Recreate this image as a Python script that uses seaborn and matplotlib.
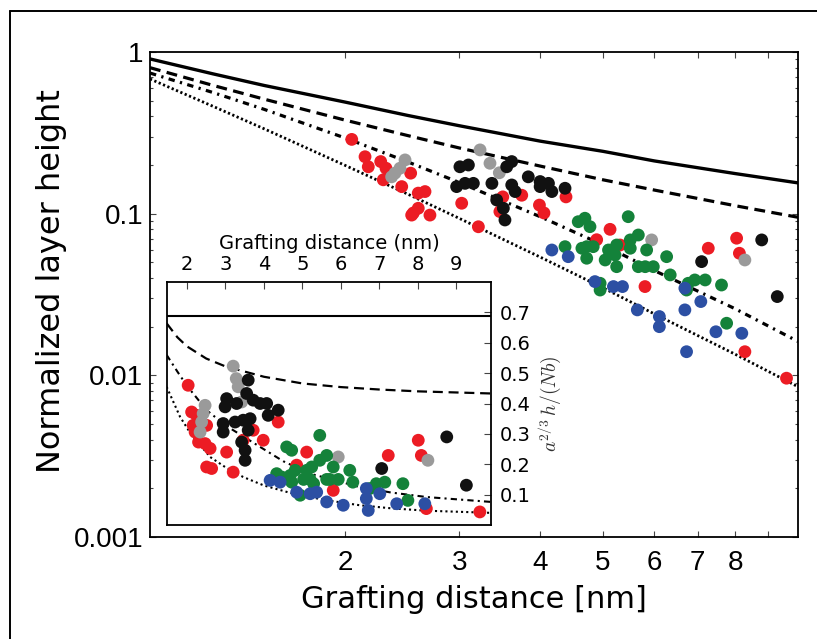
import numpy as np
import pandas as pd
import matplotlib
matplotlib.use('Agg')
import matplotlib.pyplot as plt
import seaborn as sns
from matplotlib.lines import Line2D
from matplotlib.ticker import FixedLocator, FixedFormatter, NullFormatter, LogLocator, NullLocator

# ---------------- data: main panel (log-log) ----------------
red_x = [2.048, 2.147, 2.172, 2.270, 2.313, 2.291, 2.446, 2.525, 2.594, 2.657, 2.549, 2.594, 2.534, 2.704,
         3.027, 3.212, 3.503, 3.747, 4.385, 3.99, 4.055, 3.467, 5.128, 4.89, 5.313, 5.806, 7.27, 8.04, 8.12,
         8.28, 9.60]
red_y = [0.288, 0.225, 0.195, 0.210, 0.191, 0.162, 0.147, 0.178, 0.134, 0.137, 0.101, 0.108, 0.098, 0.098,
         0.116, 0.083, 0.127, 0.130, 0.127, 0.113, 0.101, 0.103, 0.080, 0.069, 0.064, 0.0354, 0.0611, 0.0705,
         0.0569, 0.0140, 0.0096]
gray_x = [2.388, 2.475, 2.431, 2.36, 3.231, 3.347, 3.46, 5.945, 8.28]
gray_y = [0.178, 0.215, 0.191, 0.169, 0.248, 0.205, 0.179, 0.0688, 0.0517]
black_x = [3.008, 3.063, 2.973, 3.155, 3.37, 3.552, 3.616, 3.835, 4.0, 4.12, 4.17, 4.0, 4.37, 3.616, 3.66,
           3.428, 3.51, 3.53, 7.10, 8.79, 9.29, 3.10]
black_y = [0.195, 0.154, 0.147, 0.154, 0.154, 0.195, 0.210, 0.169, 0.158, 0.154, 0.137, 0.147, 0.1436,
           0.1505, 0.137, 0.1215, 0.108, 0.0914, 0.0505, 0.0688, 0.0307, 0.200]
green_x = [4.58, 4.69, 4.775, 5.47, 4.37, 4.64, 4.72, 4.83, 4.72, 5.04, 5.10, 5.25, 5.22, 5.25, 5.51, 5.51,
           5.67, 5.84, 5.67, 5.81, 5.98, 6.27, 6.35, 4.95, 4.95, 6.77, 6.93, 7.19, 6.73, 7.62, 7.76]
green_y = [0.0892, 0.0937, 0.0831, 0.0958, 0.0625, 0.0611, 0.0625, 0.0625, 0.053, 0.0517, 0.0596, 0.064,
           0.0555, 0.047, 0.0688, 0.0611, 0.0738, 0.0596, 0.047, 0.047, 0.047, 0.0542, 0.0418, 0.0371, 0.0337,
           0.0371, 0.0389, 0.0389, 0.0337, 0.0362, 0.021]
blue_x = [4.17, 4.42, 4.86, 5.19, 5.36, 5.65, 6.11, 6.11, 6.69, 6.69, 7.08, 6.73, 7.47, 8.19]
blue_y = [0.0596, 0.0542, 0.038, 0.0354, 0.0354, 0.0254, 0.0231, 0.020, 0.0346, 0.0254, 0.0286, 0.014,
          0.0186, 0.0182]

# theory curves (main), read at these grafting distances
line_x = [1, 1.25, 1.5, 2, 2.5, 3, 4, 5, 6, 8, 10]
solid_y = [0.906, 0.733, 0.621, 0.49, 0.405, 0.35, 0.281, 0.243, 0.212, 0.177, 0.155]
dashed_y = [0.80, 0.622, 0.511, 0.379, 0.304, 0.255, 0.197, 0.162, 0.140, 0.112, 0.095]
dashdot_y = [0.741, 0.562, 0.442, 0.294, 0.209, 0.156, 0.0958, 0.0641, 0.0445, 0.0258, 0.0162]
dotted_y = [0.681, 0.462, 0.335, 0.199, 0.132, 0.0936, 0.0539, 0.0348, 0.0240, 0.0135, 0.0085]

main_xticks = [2, 3, 4, 5, 6, 7, 8, 9]
main_xticklabels = ['2', '3', '4', '5', '6', '7', '8', '']
main_yticks = [0.001, 0.01, 0.1, 1]
main_yticklabels = ['0.001', '0.01', '0.1', '1']

# ---------------- data: inset (linear) ----------------
red_in_x = [2.03, 2.12, 2.25, 2.16, 2.21, 2.51, 2.30, 2.47, 2.60, 2.51, 2.64, 3.03, 3.20, 3.46, 3.72, 3.98,
            4.37, 5.11, 4.85, 5.80, 7.23, 8.01, 8.09, 8.22, 9.61]
red_in_y = [0.460, 0.372, 0.361, 0.328, 0.306, 0.328, 0.273, 0.268, 0.252, 0.191, 0.186, 0.240, 0.174, 0.279,
            0.312, 0.279, 0.339, 0.240, 0.197, 0.114, 0.229, 0.279, 0.229, 0.054, 0.043]
gray_in_x = [3.20, 3.28, 3.33, 3.42, 2.47, 2.42, 2.38, 2.34, 5.93, 8.26]
gray_in_y = [0.523, 0.482, 0.455, 0.405, 0.394, 0.367, 0.339, 0.306, 0.224, 0.213]
black_in_x = [3.59, 3.55, 3.03, 2.99, 3.29, 3.72, 3.90, 4.07, 4.11, 4.37, 2.94, 2.94, 3.25, 3.46, 3.64, 3.59,
              3.42, 3.51, 3.51, 7.06, 8.75, 9.26]
black_in_y = [0.477, 0.433, 0.416, 0.389, 0.400, 0.411, 0.400, 0.400, 0.361, 0.378, 0.334, 0.306, 0.339,
              0.345, 0.350, 0.312, 0.273, 0.246, 0.213, 0.186, 0.290, 0.131]
green_in_x = [5.45, 4.59, 4.72, 4.33, 4.46, 4.68, 4.81, 4.72, 4.94, 5.03, 5.11, 5.24, 5.20, 5.29, 5.45, 5.63,
              5.63, 5.80, 5.71, 5.93, 6.23, 6.31, 6.75, 6.92, 7.14, 7.61, 7.74]
green_in_y = [0.295, 0.257, 0.246, 0.169, 0.158, 0.163, 0.180, 0.141, 0.098, 0.150, 0.180, 0.191, 0.150,
              0.136, 0.213, 0.229, 0.150, 0.191, 0.150, 0.150, 0.180, 0.141, 0.120, 0.136, 0.141, 0.136, 0.081]
blue_in_x = [4.16, 4.42, 4.85, 5.20, 5.37, 5.63, 6.06, 6.66, 6.66, 6.71, 7.01, 7.45, 8.18]
blue_in_y = [0.147, 0.141, 0.108, 0.103, 0.108, 0.076, 0.065, 0.120, 0.087, 0.048, 0.103, 0.070, 0.070]

in_solid_x = [1.48, 9.9]
in_solid_y = [0.688, 0.688]
in_dash_x = [1.47, 1.75, 2.0, 2.5, 3.0, 4.0, 5.0, 6.0, 7.0, 8.0, 9.9]
in_dash_y = [0.664, 0.618, 0.588, 0.548, 0.522, 0.488, 0.466, 0.454, 0.446, 0.440, 0.433]
in_dashdot_x = [1.47, 1.75, 2.0, 2.51, 3.0, 3.9, 4.5, 5.2, 6.49, 7.3, 8.23, 9.9]
in_dashdot_y = [0.56, 0.505, 0.458, 0.378, 0.328, 0.257, 0.21, 0.169, 0.125, 0.107, 0.092, 0.076]
in_dot_x = [1.47, 1.82, 2.1, 2.6, 3.0, 3.46, 4.0, 4.76, 5.6, 6.49, 7.3, 8.23, 9.9]
in_dot_y = [0.455, 0.356, 0.30, 0.224, 0.19, 0.158, 0.13, 0.103, 0.082, 0.065, 0.055, 0.047, 0.040]

in_xticks = [2, 3, 4, 5, 6, 7, 8, 9]
in_yticks = [0.1, 0.2, 0.3, 0.4, 0.5, 0.6, 0.7]

colors = {'red': '#ec1c24', 'gray': '#9a9a9a', 'black': '#111111', 'green': '#14823a', 'blue': '#2c4fa3'}

# ---------------- style ----------------
sns.set_style('ticks')
plt.rcParams['font.family'] = ['DejaVu Sans']
plt.rcParams['mathtext.fontset'] = 'cm'
plt.rcParams['text.color'] = 'black'
plt.rcParams['axes.labelcolor'] = 'black'
plt.rcParams['xtick.color'] = 'black'
plt.rcParams['ytick.color'] = 'black'

fig = plt.figure(figsize=(8.17, 6.39), dpi=100)
fig.patch.set_facecolor('white')

# ---------------- main axes ----------------
ax = fig.add_axes([150 / 817, 1 - 537 / 639, 648 / 817, 485 / 639])
ax.set_xscale('log')
ax.set_yscale('log')


def frame(xs, ys, name):
    return pd.DataFrame({'d': xs, 'h': ys, 'series': name})


df_main = pd.concat([frame(red_x, red_y, 'red'), frame(gray_x, gray_y, 'gray'),
                     frame(black_x, black_y, 'black'), frame(green_x, green_y, 'green'),
                     frame(blue_x, blue_y, 'blue')], ignore_index=True)

sns.lineplot(x=line_x, y=solid_y, ax=ax, color='black', lw=2.4, estimator=None, sort=False, zorder=2)
sns.lineplot(x=line_x, y=dashed_y, ax=ax, color='black', lw=2.3, linestyle=(0, (3.4, 2.0)),
             estimator=None, sort=False, zorder=2)
sns.lineplot(x=line_x, y=dashdot_y, ax=ax, color='black', lw=2.3, linestyle=(0, (2.0, 1.7, 0.7, 1.7)),
             estimator=None, sort=False, zorder=2)
sns.lineplot(x=line_x, y=dotted_y, ax=ax, color='black', lw=2.0, linestyle=(0, (0.8, 0.9)),
             estimator=None, sort=False, zorder=2)
sns.scatterplot(data=df_main, x='d', y='h', hue='series', palette=colors, s=85, edgecolor='none',
                legend=False, ax=ax, zorder=3)

ax.set_xlim(1, 10)
ax.set_ylim(1e-3, 1)
ax.xaxis.set_major_locator(FixedLocator(main_xticks))
ax.xaxis.set_major_formatter(FixedFormatter(main_xticklabels))
ax.xaxis.set_minor_locator(NullLocator())
ax.yaxis.set_major_locator(FixedLocator(main_yticks))
ax.yaxis.set_major_formatter(FixedFormatter(main_yticklabels))
ax.yaxis.set_minor_locator(LogLocator(base=10, subs=np.arange(2, 10)))
ax.yaxis.set_minor_formatter(NullFormatter())
ax.tick_params(which='both', direction='in', top=True, right=True, width=0.8, color='#444444')
ax.tick_params(which='major', length=4)
ax.tick_params(which='minor', length=2.5)
ax.tick_params(axis='x', which='major', pad=9)
ax.tick_params(axis='y', which='major', pad=5)
for lab in ax.get_xticklabels() + ax.get_yticklabels():
    lab.set_fontfamily(['Liberation Sans', 'DejaVu Sans'])
    lab.set_fontsize(20)
for sp in ax.spines.values():
    sp.set_linewidth(1.3)
    sp.set_color('black')
ax.set_xlabel('Grafting distance [nm]', fontsize=22)
ax.set_ylabel('Normalized layer height', fontsize=23)
ax.xaxis.set_label_coords(0.5, -0.099)
ax.yaxis.set_label_coords(-0.128, 0.528)

# ---------------- inset ----------------
axin = fig.add_axes([167 / 817, 1 - 525 / 639, 324 / 817, 243 / 639])
axin.set_facecolor('white')
axin.set_zorder(5)

df_in = pd.concat([frame(red_in_x, red_in_y, 'red'), frame(gray_in_x, gray_in_y, 'gray'),
                   frame(black_in_x, black_in_y, 'black'), frame(green_in_x, green_in_y, 'green'),
                   frame(blue_in_x, blue_in_y, 'blue')], ignore_index=True)

sns.lineplot(x=in_solid_x, y=in_solid_y, ax=axin, color='black', lw=1.5, estimator=None, sort=False)
sns.lineplot(x=in_dash_x, y=in_dash_y, ax=axin, color='black', lw=1.6, linestyle=(0, (4.5, 2.6)),
             estimator=None, sort=False)
sns.lineplot(x=in_dashdot_x, y=in_dashdot_y, ax=axin, color='black', lw=1.5,
             linestyle=(0, (3.0, 2.0, 1.0, 2.0)), estimator=None, sort=False)
sns.lineplot(x=in_dot_x, y=in_dot_y, ax=axin, color='black', lw=1.5, linestyle=(0, (1.0, 1.5)),
             estimator=None, sort=False)
sns.scatterplot(data=df_in, x='d', y='h', hue='series', palette=colors, s=85, edgecolor='none',
                legend=False, ax=axin, zorder=3)

axin.set_xlim(1.48, 9.9)
axin.set_ylim(0, 0.8)
axin.xaxis.tick_top()
axin.xaxis.set_label_position('top')
axin.yaxis.tick_right()
axin.yaxis.set_label_position('right')
axin.set_xticks(in_xticks)
axin.set_xticklabels([str(t) for t in in_xticks])
axin.set_yticks(in_yticks)
axin.set_yticklabels(['%.1f' % t for t in in_yticks])
axin.tick_params(direction='in', length=5, width=0.8, labelsize=14, pad=6, color='#444444')
axin.tick_params(axis='x', bottom=False, top=True)
axin.tick_params(axis='y', left=False, right=True)
for sp in axin.spines.values():
    sp.set_linewidth(1.3)
    sp.set_color('black')
axin.set_xlabel('Grafting distance (nm)', fontsize=14, labelpad=4)
axin.set_ylabel(r'$a^{2/3}\,h/(Nb)$', fontsize=14, labelpad=4, color='#333333')

# outer frame of the figure (left and top edges visible)
fig.add_artist(Line2D([9.5 / 817, 9.5 / 817], [0, 1 - 11 / 639], transform=fig.transFigure,
                      color='black', lw=1.4))
fig.add_artist(Line2D([9.5 / 817, 1], [1 - 11 / 639, 1 - 11 / 639], transform=fig.transFigure,
                      color='black', lw=1.4))

fig.savefig('out.png', dpi=100)
